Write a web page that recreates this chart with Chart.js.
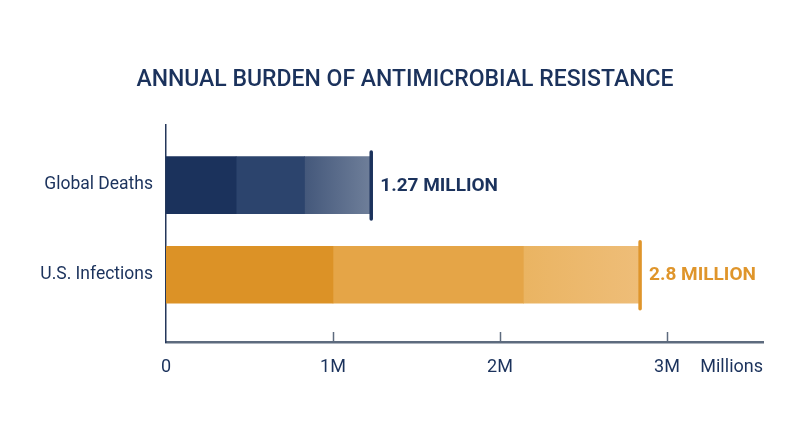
<!DOCTYPE html>
<html>
<head>
<meta charset="utf-8">
<script src="https://cdn.jsdelivr.net/npm/chart.js@4"></script>
<style>
  html, body { margin: 0; padding: 0; background: #ffffff; }
  #wrap { width: 800px; height: 447px; }
</style>
</head>
<body>
<div id="wrap"><canvas id="burdenChart" width="800" height="447"></canvas></div>
<script>
const categories = ["Global Deaths", "U.S. Infections"];
// each bar is drawn as three stacked pieces (millions)
const segment1 = [0.42, 1.0];
const segment2 = [0.41, 1.14];
const segment3 = [0.39, 0.69];
const valueLabels = ["1.27 MILLION", "2.8 MILLION"];
const xTicks = [0, 1, 2, 3];

const navy = "#1b325c";
const orange = "#df952b";

function toPoints(arr) {
    return arr.map(function (v, i) { return { x: v, y: i }; });
}

function fadeColor(from, to) {
    return function (context) {
        const chart = context.chart;
        const area = chart.chartArea;
        if (!area) return from;
        const i = context.dataIndex;
        const xs = chart.scales.x;
        const start = xs.getPixelForValue(segment1[i] + segment2[i]);
        const end = xs.getPixelForValue(segment1[i] + segment2[i] + segment3[i]);
        const g = chart.ctx.createLinearGradient(start, 0, end, 0);
        g.addColorStop(0, from[i]);
        g.addColorStop(1, to[i]);
        return g;
    };
}

const extras = {
    id: "extras",
    afterDatasetsDraw(chart) {
        const ctx = chart.ctx;
        const xs = chart.scales.x;
        const ys = chart.scales.y;
        const capColors = [navy, orange];
        ctx.save();
        categories.forEach(function (c, i) {
            const total = segment1[i] + segment2[i] + segment3[i];
            const x = xs.getPixelForValue(total) + 1.5;
            const y = ys.getPixelForValue(i);
            ctx.strokeStyle = capColors[i];
            ctx.lineWidth = 3.5;
            ctx.lineCap = "round";
            ctx.beginPath();
            ctx.moveTo(x, y - 33);
            ctx.lineTo(x, y + 34);
            ctx.stroke();

            ctx.fillStyle = capColors[i];
            ctx.font = "bold 19px Roboto";
            ctx.textAlign = "left";
            ctx.textBaseline = "middle";
            ctx.fillText(valueLabels[i], x + 9, y + 1);
        });

        // small tick marks standing on the x axis
        ctx.strokeStyle = "#5d6b7e";
        ctx.lineWidth = 1.5;
        ctx.lineCap = "butt";
        xTicks.slice(1).forEach(function (t) {
            const x = Math.round(xs.getPixelForValue(t)) + 0.5;
            ctx.beginPath();
            ctx.moveTo(x, xs.top);
            ctx.lineTo(x, xs.top - 10);
            ctx.stroke();
        });

        ctx.fillStyle = navy;
        ctx.font = "18px Roboto";
        ctx.textAlign = "right";
        ctx.textBaseline = "middle";
        ctx.fillText("Millions", xs.right, 367);

        ctx.font = "500 23px Roboto";
        ctx.textAlign = "center";
        ctx.fillText("ANNUAL BURDEN OF ANTIMICROBIAL RESISTANCE", 405, 80);
        ctx.restore();
    }
};

const ctx = document.getElementById("burdenChart").getContext("2d");

new Chart(ctx, {
    type: "bar",
    data: {
        datasets: [{
            stack: "bar",
            data: toPoints(segment1),
            backgroundColor: [navy, "#dc9226"]
        }, {
            stack: "bar",
            data: toPoints(segment2),
            backgroundColor: ["#2c446d", "#e5a547"]
        }, {
            stack: "bar",
            data: toPoints(segment3),
            backgroundColor: fadeColor(["#44587b", "#eab462"], ["#6e7e99", "#eebd78"])
        }]
    },
    options: {
        indexAxis: "y",
        responsive: false,
        animation: false,
        events: [],
        barThickness: 57,
        borderWidth: 0,
        layout: {
            padding: { left: 0, right: 37, top: 125, bottom: 0 }
        },
        plugins: {
            legend: { display: false },
            tooltip: { enabled: false }
        },
        scales: {
            x: {
                type: "linear",
                stacked: true,
                min: 0,
                max: 3.575,
                afterBuildTicks: function (scale) {
                    scale.ticks = xTicks.map(function (v) { return { value: v }; });
                },
                afterFit: function (scale) { scale.height = 105; },
                grid: { display: false, drawTicks: false },
                border: { color: "#5d6b7e", width: 2.5 },
                ticks: {
                    padding: 15,
                    color: navy,
                    font: { family: "Roboto", size: 18 },
                    maxRotation: 0,
                    callback: function (v) { return v === 0 ? "0" : v + "M"; }
                }
            },
            y: {
                type: "linear",
                offset: false,
                reverse: true,
                min: -0.67,
                max: 1.75,
                afterBuildTicks: function (scale) {
                    scale.ticks = categories.map(function (c, i) { return { value: i }; });
                },
                afterFit: function (scale) { scale.width = 166; },
                grid: { display: false, drawTicks: false },
                border: { color: "#24375a", width: 1.5 },
                ticks: {
                    padding: 13,
                    color: navy,
                    font: { family: "Roboto", size: 17.5 },
                    callback: function (v) { return categories[v]; }
                }
            }
        }
    },
    plugins: [extras]
});
</script>
</body>
</html>
